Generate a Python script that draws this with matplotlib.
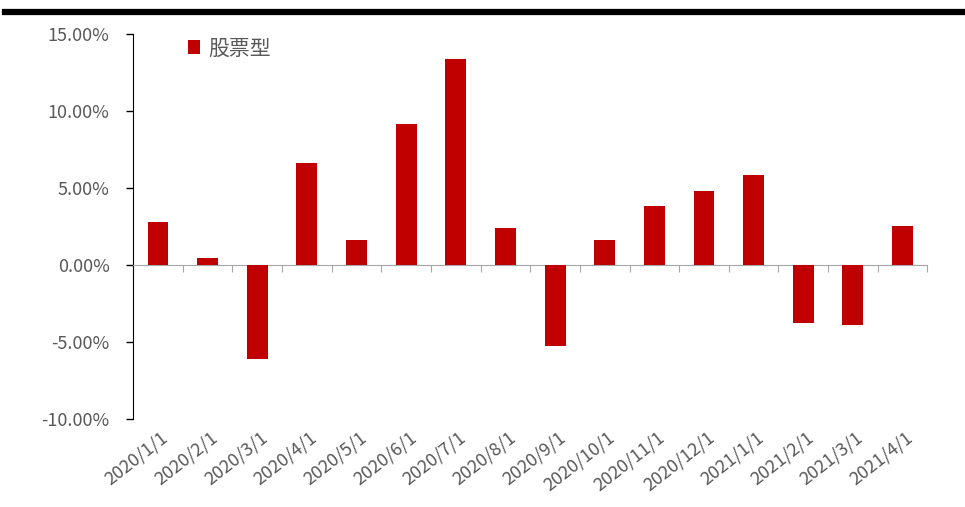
import matplotlib
matplotlib.use('Agg')
import matplotlib.pyplot as plt
from matplotlib.lines import Line2D
from matplotlib.ticker import FuncFormatter, FixedLocator

plt.rcParams['font.family'] = ['Noto Sans CJK SC', 'DejaVu Sans']

dates = ['2020/1/1', '2020/2/1', '2020/3/1', '2020/4/1', '2020/5/1', '2020/6/1',
         '2020/7/1', '2020/8/1', '2020/9/1', '2020/10/1', '2020/11/1', '2020/12/1',
         '2021/1/1', '2021/2/1', '2021/3/1', '2021/4/1']
stock_type = [2.8, 0.45, -6.1, 6.6, 1.6, 9.15, 13.4, 2.4, -5.3, 1.6, 3.8, 4.8,
              5.85, -3.75, -3.9, 2.5]

red = '#C00000'
grey = '#595959'

fig = plt.figure(figsize=(9.65, 5.07), dpi=100)
ax = fig.add_axes([0.138, 0.174, 0.823, 0.759])

x = list(range(len(dates)))
ax.bar(x, stock_type, width=0.42, color=red, label='股票型', zorder=3)

ax.set_xlim(-0.5, len(dates) - 0.5)
ax.set_ylim(-10, 15)
ax.set_yticks([-10, -5, 0, 5, 10, 15])
ax.yaxis.set_major_formatter(FuncFormatter(lambda v, p: '{:.2f}%'.format(v)))
ax.tick_params(axis='y', direction='out', length=5, width=1, colors='black',
               labelcolor=grey, labelsize=13, pad=12)

for s in ['top', 'right']:
    ax.spines[s].set_visible(False)
ax.spines['left'].set_color('black')
ax.spines['bottom'].set_position(('data', 0))
ax.spines['bottom'].set_color('#A6A6A6')

# category boundary ticks on the zero line
ax.xaxis.set_major_locator(FixedLocator([i - 0.5 for i in range(len(dates) + 1)]))
ax.tick_params(axis='x', direction='out', length=5, colors='#A6A6A6', labelbottom=False)

for i, d in enumerate(dates):
    ax.text(i + 0.05, -0.025, d, transform=ax.get_xaxis_transform(),
            rotation=38, ha='right', va='top', rotation_mode='anchor',
            fontsize=13, color=grey)

leg = ax.legend(loc='upper left', bbox_to_anchor=(0.045, 1.04), frameon=False,
                fontsize=15, handlelength=0.6, handleheight=0.6, handletextpad=0.4)
for t in leg.get_texts():
    t.set_color(grey)

fig.add_artist(Line2D([0.005, 1.0], [0.976, 0.976], lw=4.5, color='black'))

fig.savefig('out.png', dpi=100)
